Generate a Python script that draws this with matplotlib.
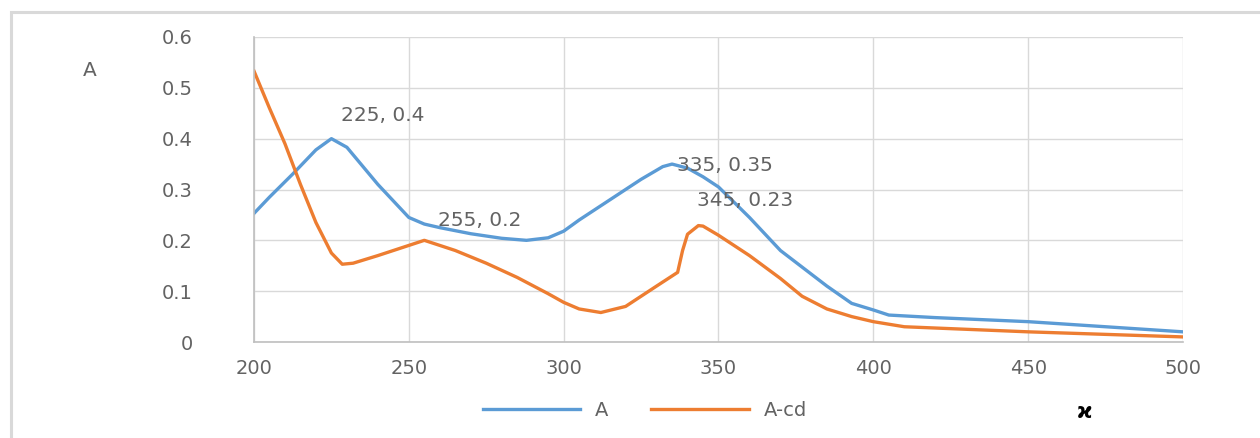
import matplotlib.pyplot as plt
from matplotlib.patches import Rectangle

# absorbancia A
x_a = [200, 205, 212.6, 220, 225, 230, 240, 250, 255, 260, 270, 280, 288, 295, 300,
       305, 315, 325, 332, 335, 340, 345, 350, 360, 370, 376, 385, 393, 400, 405,
       420, 450, 475, 500]
y_a = [0.253, 0.285, 0.331, 0.378, 0.40, 0.383, 0.31, 0.245, 0.232, 0.225, 0.213, 0.204,
       0.20, 0.205, 0.218, 0.24, 0.28, 0.32, 0.345, 0.35, 0.342, 0.325, 0.305, 0.245,
       0.18, 0.152, 0.11, 0.076, 0.063, 0.053, 0.048, 0.04, 0.03, 0.02]

# absorbancia A-cd
x_cd = [200, 205, 210, 215, 220, 225, 228.5, 232, 240, 250, 255, 265, 275, 285, 295,
        300, 305, 312, 320, 330, 336.8, 338.4, 340, 343.5, 345, 350, 360, 370, 377,
        385, 393, 400, 410, 450, 500]
y_cd = [0.533, 0.46, 0.39, 0.31, 0.235, 0.175, 0.153, 0.155, 0.17, 0.19, 0.20, 0.18,
        0.155, 0.127, 0.095, 0.078, 0.065, 0.058, 0.07, 0.11, 0.137, 0.18, 0.212, 0.229,
        0.228, 0.21, 0.17, 0.125, 0.09, 0.065, 0.05, 0.04, 0.03, 0.02, 0.01]

picos = [(225, 0.4, 241.7, 0.445), (255, 0.2, 273, 0.24),
         (335, 0.35, 352, 0.347), (345, 0.23, 358.7, 0.278)]

azul = '#5b9bd5'
naranja = '#ed7d31'
gris = '#636363'

fig = plt.figure(figsize=(12.6, 4.38), dpi=100)
fig.patches.append(Rectangle((11 / 1260, -0.05), 1.2, 1 - 12 / 438 + 0.05,
                             transform=fig.transFigure, fill=False,
                             edgecolor='#d9d9d9', lw=2.2))

ax = fig.add_axes([254 / 1260, 1 - 342 / 438, (1183 - 254) / 1260, (342 - 37) / 438])
ax.plot(x_a, y_a, color=azul, lw=2.4, label='A', solid_joinstyle='round')
ax.plot(x_cd, y_cd, color=naranja, lw=2.4, label='A-cd', solid_joinstyle='round')

for px, py, tx, ty in picos:
    ax.text(tx, ty, f'{px}, {py:g}', ha='center', va='center', fontsize=14.5, color=gris)

ax.set_xlim(200, 500)
ax.set_ylim(0, 0.6)
ax.set_xticks([200, 250, 300, 350, 400, 450, 500])
ax.set_yticks([0, 0.1, 0.2, 0.3, 0.4, 0.5, 0.6])
ax.set_yticklabels(['0', '0.1', '0.2', '0.3', '0.4', '0.5', '0.6'])
ax.tick_params(length=0, labelsize=14, labelcolor=gris)
ax.tick_params(axis='y', pad=44)
ax.tick_params(axis='x', pad=12)
ax.grid(True, color='#d9d9d9', lw=1)
for s in ['top', 'right']:
    ax.spines[s].set_visible(False)
for s in ['left', 'bottom']:
    ax.spines[s].set_color('#bfbfbf')
    ax.spines[s].set_linewidth(1.2)

fig.text(90 / 1260, 1 - 70 / 438, 'A', fontsize=14.5, color=gris, ha='center', va='center')
fig.text(1085 / 1260, 1 - 412 / 438, 'ϰ', fontsize=15, color='black',
         fontweight='bold', ha='center', va='center')

fig.legend(loc='center', bbox_to_anchor=(645 / 1260, 1 - 410 / 438), ncol=2,
           frameon=False, fontsize=14, labelcolor=gris, handlelength=5.0,
           columnspacing=2.2, handletextpad=0.8)

fig.savefig('out.png', dpi=100)
